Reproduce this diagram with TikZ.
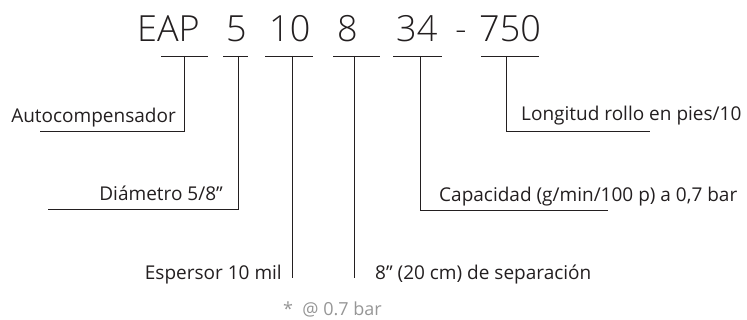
\documentclass[tikz,border=0pt]{standalone}
\usepackage{fontspec}
\setmainfont{Open Sans}
\newfontfamily\lightfont{Open Sans Light}
\usepackage{tikz}
\definecolor{ink}{RGB}{35,31,32}
\definecolor{note}{RGB}{150,150,150}

\begin{document}
\begin{tikzpicture}
        [%%%%%%%%%%%%%%%%%%%%%%%%%%%%%%
        x=1pt, y=-1pt,
        code/.style={anchor=base west, inner sep=0pt, text=ink,
          font=\lightfont\fontsize{36}{36}\selectfont},
        lbl/.style={inner sep=0pt, text=ink, font=\fontsize{19}{19}\selectfont},
        rule/.style={draw=ink, line width=0.9pt},
        ]%%%%%%%%%%%%%%%%%%%%%%%%%%%%%%
        \useasboundingbox (0,0) rectangle (747,320);
        % Code
        \node[code] (eap) at (137,42) {EAP};
        \node[code] (dia) at (226,42) {5};
        \node[code] (esp) at (269,42) {10};
        \node[code] (sep) at (337,42) {8};
        \node[code] (cap) at (396,42) {34};
        \node[code] (dash) at (455,42) {-};
        \node[code] (lon) at (479,42) {750};
        % Underlines
        \foreach \n/\l/\m/\r in {eap/161/184/208, dia/223/238/248, esp/265/292/313,
                                 sep/333/354/380, cap/393/420/442, lon/481/506/539}{
          \coordinate (\n L) at (\l,56);
          \coordinate (\n M) at (\m,56);
          \coordinate (\n R) at (\r,56);
          \draw[rule] (\n L) -- (\n R);
        }
        % Leader ends
        \coordinate (eapE) at (40,131);
        \coordinate (diaE) at (48,209);
        \coordinate (espE) at (292,278);
        \coordinate (sepE) at (354,278);
        \coordinate (capE) at (608,210);
        \coordinate (lonE) at (650,131);
        % Leaders
        \draw[rule] (eapM) |- (eapE);
        \draw[rule] (diaM) |- (diaE);
        \draw[rule] (espM) -- (espE);
        \draw[rule] (sepM) -- (sepE);
        \draw[rule] (capM) |- (capE);
        \draw[rule] (lonM) |- (lonE);
        % Text
        \node[lbl, anchor=base east] (eapT) at (176,123) {Autocompensador};
        \node[lbl, anchor=base east] (diaT) at (223,201) {Diámetro 5/8”};
        \node[lbl, anchor=base east] (espT) at (282,280) {Espersor 10 mil};
        \node[lbl, anchor=base west] (sepT) at (375,280) {8” (20 cm) de separación};
        \node[lbl, anchor=base west] (capT) at (439,202) {Capacidad (g/min/100 p) a 0,7 bar};
        \node[lbl, anchor=base west] (lonT) at (521,121) {Longitud rollo en pies/10};
        \node[lbl, anchor=base west, text=note, font=\fontsize{18}{18}\selectfont] (noteT) at (283,316) {*\ \ @ 0.7 bar};
      \end{tikzpicture}
\end{document}
